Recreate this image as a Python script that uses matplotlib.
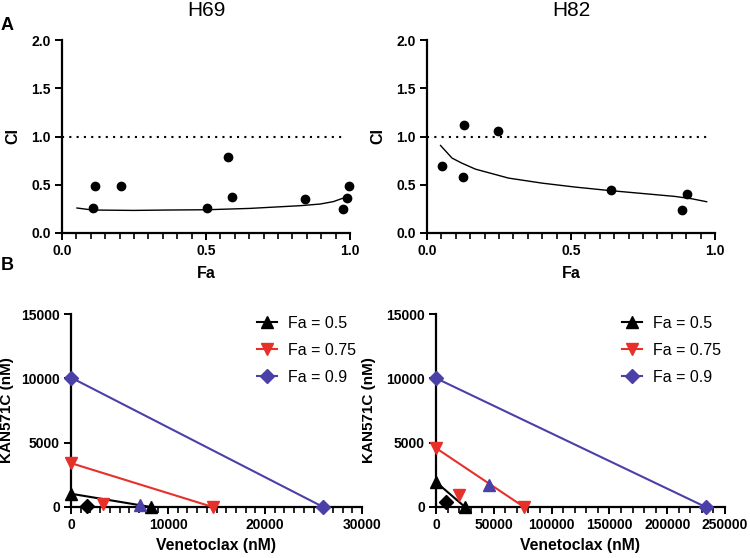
import matplotlib
matplotlib.use("Agg")
import matplotlib.pyplot as plt
from matplotlib.ticker import MultipleLocator, FormatStrFormatter

plt.rcParams['font.family'] = ['Liberation Sans', 'DejaVu Sans']

# CI vs Fa data
h69_fa = [0.106, 0.113, 0.205, 0.503, 0.576, 0.591, 0.845, 0.976, 0.988, 0.995]
h69_ci = [0.259, 0.483, 0.483, 0.259, 0.783, 0.369, 0.355, 0.245, 0.366, 0.490]
h69_fit_fa = [0.052, 0.106, 0.249, 0.364, 0.503, 0.653, 0.827, 0.896, 0.942, 0.975]
h69_fit_ci = [0.259, 0.238, 0.234, 0.238, 0.241, 0.255, 0.283, 0.300, 0.325, 0.360]

h82_fa = [0.052, 0.127, 0.126, 0.247, 0.638, 0.886, 0.904]
h82_ci = [0.697, 1.117, 0.576, 1.052, 0.441, 0.234, 0.400]
h82_fit_fa = [0.047, 0.087, 0.121, 0.168, 0.283, 0.399, 0.514, 0.630, 0.746, 0.861, 0.919, 0.971]
h82_fit_ci = [0.907, 0.776, 0.724, 0.662, 0.569, 0.517, 0.476, 0.441, 0.410, 0.379, 0.355, 0.324]

# isobologram data: (venetoclax, KAN571C) end points per Fa level, plus combination points
fa_labels = ['Fa = 0.5', 'Fa = 0.75', 'Fa = 0.9']
h69_ven = [8240, 14620, 26000]
h69_kan = [1030, 3410, 10060]
h69_combo_ven = [1620, 3345, 7100]
h69_combo_kan = [50, 260, 180]
h82_ven = [25090, 76130, 233270]
h82_kan = [1940, 4580, 10010]
h82_combo_ven = [8650, 20180, 46140]
h82_combo_kan = [390, 905, 1730]

colors = ['black', '#E8302A', '#4B3FA8']
markers = ['^', 'v', 'D']
combo_markers = ['D', 'v', '^']

fig = plt.figure(figsize=(7.5, 5.58), dpi=100)
W, H = 750.0, 558.0

def add_ax(x0, y0, x1, y1):
    return fig.add_axes([x0 / W, 1 - y1 / H, (x1 - x0) / W, (y1 - y0) / H])

def style(ax):
    for s in ['top', 'right']:
        ax.spines[s].set_visible(False)
    for s in ['left', 'bottom']:
        ax.spines[s].set_linewidth(1.6)
    ax.tick_params(width=1.4, length=5, labelsize=10, pad=3)
    ax.tick_params(which='minor', width=1.2, length=4)
    for lab in ax.get_xticklabels() + ax.get_yticklabels():
        lab.set_fontweight('bold')

def msize(m):
    return 7 if m == 'D' else 8.5

# top row
for (x0, x1), fa, ci, ffa, fci, title in [((62, 350), h69_fa, h69_ci, h69_fit_fa, h69_fit_ci, 'H69'),
                                           ((427, 715), h82_fa, h82_ci, h82_fit_fa, h82_fit_ci, 'H82')]:
    ax = add_ax(x0, 40, x1, 233)
    ax.plot(ffa, fci, color='black', lw=1)
    ax.scatter(fa, ci, s=36, color='black', zorder=3, clip_on=False)
    ax.axhline(1.0, color='black', ls=(0, (1, 2.5)), lw=1.5, xmax=0.98)
    ax.set_xlim(0, 1.0)
    ax.set_ylim(0, 2.0)
    ax.xaxis.set_major_locator(MultipleLocator(0.5))
    ax.xaxis.set_minor_locator(MultipleLocator(0.05))
    ax.yaxis.set_major_locator(MultipleLocator(0.5))
    ax.xaxis.set_major_formatter(FormatStrFormatter('%.1f'))
    ax.yaxis.set_major_formatter(FormatStrFormatter('%.1f'))
    ax.set_xlabel('Fa', fontsize=11.5, fontweight='bold', labelpad=6)
    ax.set_ylabel('CI', fontsize=11.5, fontweight='bold')
    ax.yaxis.set_label_coords(-0.146, 0.5)
    ax.set_title(title, fontsize=15, pad=17)
    style(ax)

# bottom row
panels = [((71, 362), h69_ven, h69_kan, h69_combo_ven, h69_combo_kan, 30000, 10000, 1000, -0.196, 0.639),
          ((436, 725), h82_ven, h82_kan, h82_combo_ven, h82_combo_kan, 250000, 50000, 10000, -0.208, 0.644)]
for (x0, x1), ven, kan, cven, ckan, xmax, xmaj, xmin, ylab_x, leg_x in panels:
    ax = add_ax(x0, 314, x1, 507)
    for i in range(3):
        ax.plot([0, ven[i]], [kan[i], 0], color=colors[i], lw=1.5, marker=markers[i],
                ms=msize(markers[i]), label=fa_labels[i], clip_on=False, zorder=3)
        ax.plot(cven[i], ckan[i], ls='none', marker=combo_markers[i], color=colors[i],
                ms=msize(combo_markers[i]), clip_on=False, zorder=4)
    ax.set_xlim(0, xmax)
    ax.set_ylim(0, 15000)
    ax.xaxis.set_major_locator(MultipleLocator(xmaj))
    ax.xaxis.set_minor_locator(MultipleLocator(xmin))
    ax.yaxis.set_major_locator(MultipleLocator(5000))
    ax.set_xlabel('Venetoclax (nM)', fontsize=11.3, fontweight='bold', labelpad=4)
    ax.set_ylabel('KAN571C (nM)', fontsize=11, fontweight='bold')
    ax.yaxis.set_label_coords(ylab_x, 0.5)
    ax.legend(loc='upper left', frameon=False, fontsize=11.5, handlelength=1.25,
              handletextpad=0.7, bbox_to_anchor=(leg_x, 0.99), borderaxespad=0,
              borderpad=0, labelspacing=0.75)
    style(ax)

fig.text(1 / W, 1 - 25 / H, 'A', fontsize=13, fontweight='bold', va='center')
fig.text(1 / W, 1 - 266 / H, 'B', fontsize=13, fontweight='bold', va='center')

fig.savefig('out.png', dpi=100)
